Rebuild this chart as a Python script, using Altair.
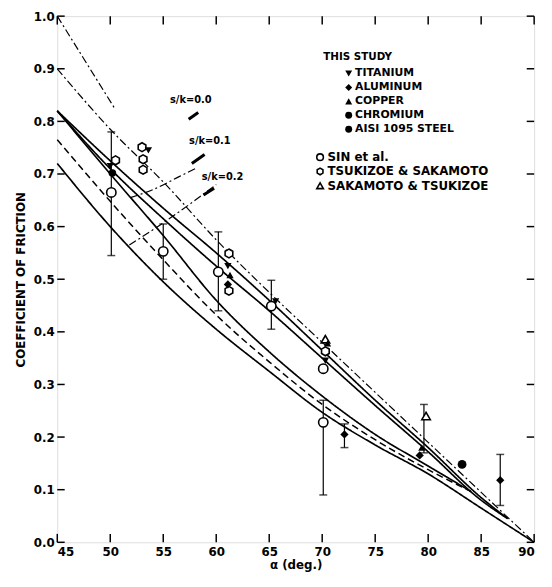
import altair as alt
import pandas as pd

FONT = "DejaVu Sans"

X_TICKS = [45, 50, 55, 60, 65, 70, 75, 80, 85, 90]
Y_TICKS = [0.0, 0.1, 0.2, 0.3, 0.4, 0.5, 0.6, 0.7, 0.8, 0.9, 1.0]

# ---- theoretical curves ----
CURVE_NAMES = ["dd_a", "dd_b", "u_1", "u_2", "l_1", "l_2", "l_3", "cl_1", "cl_2"]
CURVE_X = {
    "dd_a": [45, 50.5],
    "dd_b": [45, 50, 55, 60, 65, 70, 75, 80, 85, 90],
    "u_1": [45, 50, 55, 60, 65, 70, 75, 80, 85, 87.5],
    "u_2": [45, 50, 55, 60, 65, 70, 75, 80, 85, 87.5],
    "l_1": [45, 50, 55, 60, 65, 70, 75, 80, 84],
    "l_2": [45, 50, 55, 60, 65, 70, 75, 80, 84],
    "l_3": [45, 50, 55, 60, 65, 70, 75, 80, 85, 90],
    "cl_1": [51.8, 55, 58, 60],
    "cl_2": [51.9, 54, 56.5, 58],
}
CURVE_Y = {
    "dd_a": [1.0, 0.822],
    "dd_b": [0.90, 0.785, 0.685, 0.575, 0.475, 0.38, 0.285, 0.19, 0.095, 0.0],
    "u_1": [0.82, 0.725, 0.635, 0.55, 0.46, 0.365, 0.27, 0.18, 0.085, 0.045],
    "u_2": [0.82, 0.71, 0.615, 0.525, 0.44, 0.35, 0.26, 0.172, 0.08, 0.045],
    "l_1": [0.82, 0.70, 0.583, 0.46, 0.362, 0.278, 0.205, 0.145, 0.097],
    "l_2": [0.765, 0.648, 0.537, 0.432, 0.343, 0.262, 0.195, 0.138, 0.097],
    "l_3": [0.72, 0.60, 0.495, 0.405, 0.325, 0.247, 0.185, 0.13, 0.065, 0.0],
    "cl_1": [0.565, 0.607, 0.65, 0.68],
    "cl_2": [0.655, 0.67, 0.695, 0.71],
}
CURVE_KIND = {
    "dd_a": "dashdot", "dd_b": "dashdot", "u_1": "solid", "u_2": "solid",
    "l_1": "solid", "l_2": "dashed", "l_3": "solid", "cl_1": "dashdot", "cl_2": "dashdot",
}

# ---- experimental points ----
TI_X = [50.0, 53.6, 61.1, 65.6, 70.3]
TI_Y = [0.715, 0.745, 0.525, 0.458, 0.345]
AL_X = [61.1, 72.1, 79.2, 86.8]
AL_Y = [0.49, 0.205, 0.165, 0.118]
CU_X = [61.3, 70.5, 79.4]
CU_Y = [0.508, 0.378, 0.18]
CR_X = [83.2]
CR_Y = [0.148]
ST_X = [50.2]
ST_Y = [0.702]
SIN_X = [50.1, 55.0, 60.2, 65.2, 70.1, 70.1]
SIN_Y = [0.665, 0.553, 0.514, 0.449, 0.33, 0.228]
TS_X = [50.5, 53.0, 53.1, 53.1, 61.2, 61.2, 70.3]
TS_Y = [0.726, 0.751, 0.728, 0.708, 0.549, 0.478, 0.363]
SK_X = [70.3, 79.8]
SK_Y = [0.386, 0.24]

# error bars
ERR_X = [50.1, 55.0, 60.2, 65.2, 70.1, 72.1, 79.6, 86.8]
ERR_LO = [0.545, 0.50, 0.44, 0.405, 0.09, 0.18, 0.17, 0.07]
ERR_HI = [0.78, 0.605, 0.59, 0.498, 0.27, 0.225, 0.262, 0.167]

# labels
SK_LABELS = ["s/k=0.0", "s/k=0.1", "s/k=0.2"]
SK_LX = [57.6, 59.4, 60.6]
SK_LY = [0.84, 0.762, 0.695]
LEAD_X = [57.4, 57.7, 58.8]
LEAD_Y = [0.804, 0.72, 0.66]
LEAD_X2 = [58.3, 58.9, 59.8]
LEAD_Y2 = [0.817, 0.737, 0.673]

STUDY_TITLE = "THIS STUDY"
STUDY_LABELS = ["TITANIUM", "ALUMINUM", "COPPER", "CHROMIUM", "AISI 1095 STEEL"]
OTHER_LABELS = ["SIN et al.", "TSUKIZOE & SAKAMOTO", "SAKAMOTO & TSUKIZOE"]

HEX = "M0,-1L0.87,-0.5L0.87,0.5L0,1L-0.87,0.5L-0.87,-0.5Z"
STUDY_SHAPES = ["triangle-down", "diamond", "triangle-up", "circle", "circle"]
OTHER_SHAPES = ["circle", HEX, "triangle-up"]

xs = alt.Scale(domain=[45, 90], nice=False, zero=False)
ys = alt.Scale(domain=[0, 1], nice=False)

X = lambda f="x", **k: alt.X(f"{f}:Q", scale=xs, **k)
Y = lambda f="y", **k: alt.Y(f"{f}:Q", scale=ys, **k)

rows = []
for n in CURVE_NAMES:
    for i, (a, b) in enumerate(zip(CURVE_X[n], CURVE_Y[n])):
        rows.append({"curve": n, "x": a, "y": b, "o": i, "kind": CURVE_KIND[n]})
curves = pd.DataFrame(rows)

dash = {"solid": [1, 0], "dashed": [7, 4], "dashdot": [8, 3, 2, 3]}
widths = {"solid": 1.7, "dashed": 1.5, "dashdot": 1.2}
line_layers = []
for kind, d in dash.items():
    sub = curves[curves.kind == kind]
    line_layers.append(
        alt.Chart(sub).mark_line(color="black", strokeWidth=widths[kind], strokeDash=d,
                                 interpolate="monotone").encode(
            x=X(axis=alt.Axis(values=X_TICKS, title="α (deg.)", ticks=False, domain=False, grid=False,
                              labelFont=FONT, labelFontSize=12, labelFontWeight="bold", labelPadding=4,
                              titleFont=FONT, titleFontSize=12, titleFontWeight="bold", titlePadding=3)),
            y=Y(axis=alt.Axis(values=Y_TICKS, format=".1f", title="COEFFICIENT OF FRICTION", ticks=False,
                              domain=False, grid=False, labelFont=FONT, labelFontSize=12,
                              labelFontWeight="bold", labelPadding=3, titleFont=FONT, titleFontSize=12,
                              titleFontWeight="bold", titlePadding=6)),
            detail="curve:N", order="o:Q")
    )

# inward ticks
tick_rows = []
for t in X_TICKS:
    tick_rows.append({"x": t, "x2": t, "y": 0.0, "y2": 0.016})
    tick_rows.append({"x": t, "x2": t, "y": 1.0, "y2": 0.984})
for t in Y_TICKS:
    tick_rows.append({"x": 45, "x2": 45.7, "y": t, "y2": t})
    tick_rows.append({"x": 90, "x2": 89.3, "y": t, "y2": t})
ticks = alt.Chart(pd.DataFrame(tick_rows)).mark_rule(color="black", strokeWidth=1.5).encode(
    x=X(), x2="x2:Q", y=Y(), y2="y2:Q")

err = pd.DataFrame({"x": ERR_X, "lo": ERR_LO, "hi": ERR_HI})
err_rule = alt.Chart(err).mark_rule(color="black", strokeWidth=1.2).encode(x=X(), y=Y("lo"), y2="hi:Q")
cap_lo = alt.Chart(err).mark_tick(color="black", orient="horizontal", size=8, thickness=1.5).encode(x=X(), y=Y("lo"))
cap_hi = alt.Chart(err).mark_tick(color="black", orient="horizontal", size=8, thickness=1.5).encode(x=X(), y=Y("hi"))


def pts(xv, yv, shape, filled, size=60):
    df = pd.DataFrame({"x": xv, "y": yv})
    if filled:
        m = alt.Chart(df).mark_point(shape=shape, filled=True, color="black", size=size, opacity=1)
    else:
        m = alt.Chart(df).mark_point(shape=shape, filled=True, fill="white", stroke="black",
                                     strokeWidth=1.6, size=size, opacity=1)
    return m.encode(x=X(), y=Y())


points = [
    pts(SIN_X, SIN_Y, "circle", False, 90),
    pts(TS_X, TS_Y, HEX, False, 80),
    pts(SK_X, SK_Y, "triangle-up", False, 75),
    pts(TI_X, TI_Y, "triangle-down", True, 55),
    pts(AL_X, AL_Y, "diamond", True, 70),
    pts(CU_X, CU_Y, "triangle-up", True, 55),
    pts(CR_X, CR_Y, "circle", True, 80),
    pts(ST_X, ST_Y, "circle", True, 60),
]

sk_txt = alt.Chart(pd.DataFrame({"x": SK_LX, "y": SK_LY, "t": SK_LABELS})).mark_text(
    font=FONT, fontSize=10, fontWeight="bold", color="black").encode(x=X(), y=Y(), text="t:N")
lead = alt.Chart(pd.DataFrame({"x": LEAD_X, "y": LEAD_Y, "x2": LEAD_X2, "y2": LEAD_Y2})).mark_rule(
    color="black", strokeWidth=3).encode(x=X(), y=Y(), x2="x2:Q", y2="y2:Q")

# legend (annotation placed inside plot)
leg_title = alt.Chart(pd.DataFrame({"x": [70.1], "y": [0.923], "t": [STUDY_TITLE]})).mark_text(
    font=FONT, fontSize=10.5, fontWeight="bold", align="left", color="black").encode(x=X(), y=Y(), text="t:N")
study_y = [0.891 - 0.0265 * i for i in range(len(STUDY_LABELS))]
other_y = [0.732 - 0.0272 * i for i in range(len(OTHER_LABELS))]
leg_study_txt = alt.Chart(pd.DataFrame({"x": [73.1] * 5, "y": study_y, "t": STUDY_LABELS})).mark_text(
    font=FONT, fontSize=11, fontWeight="bold", align="left", color="black").encode(x=X(), y=Y(), text="t:N")
leg_other_txt = alt.Chart(pd.DataFrame({"x": [70.5] * 3, "y": other_y, "t": OTHER_LABELS})).mark_text(
    font=FONT, fontSize=12, fontWeight="bold", align="left", color="black").encode(x=X(), y=Y(), text="t:N")
leg_marks = []
for s, yv in zip(STUDY_SHAPES, study_y):
    leg_marks.append(pts([72.5], [yv], s, True, 50))
for s, yv in zip(OTHER_SHAPES, other_y):
    leg_marks.append(pts([69.8], [yv], s, False, 45))

chart = alt.layer(
    *line_layers, ticks, err_rule, cap_lo, cap_hi, *points, sk_txt, lead,
    leg_title, leg_study_txt, leg_other_txt, *leg_marks
).properties(
    width=484, height=534,
    autosize=alt.AutoSizeParams(type="none"),
    padding={"left": 50, "top": 4, "right": 10, "bottom": 35},
).configure_view(stroke="black", strokeWidth=1.6
).configure(background="white")

chart.save("out.html", embed_options={"renderer": "svg", "actions": False})
